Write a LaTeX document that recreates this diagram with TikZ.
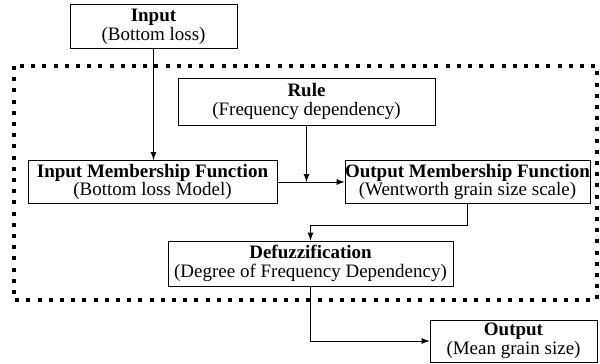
\documentclass[tikz,border=0pt]{standalone}
\usepackage{fontspec}
\setmainfont{Liberation Serif}
\tikzset{
  box/.style={draw, line width=0.5pt, align=center, inner sep=0pt,
    font=\fontsize{9.5}{9.4}\selectfont},
  dotframe/.style={line width=2pt, dash pattern=on 2pt off 3.6pt}
}
\begin{document}
\begin{tikzpicture}[>=latex, x=0.5pt, y=-0.5pt]
  \useasboundingbox (0,0) rectangle (600,364);

  % Frame
  \draw[dotframe] (14,66) rectangle (597,300);

  % Nodes
  \node[box, minimum width=83.5pt, minimum height=22pt] (In) at (153.5,26.5)
    {\textbf{Input}\\(Bottom loss)};
  \node[box, minimum width=128.5pt, minimum height=23.5pt] (Rule) at (306.5,101.5)
    {\textbf{Rule}\\(Frequency dependency)};
  \node[box, minimum width=124.5pt, minimum height=21.5pt] (InMF) at (152.5,182)
    {\textbf{Input Membership Function}\\(Bottom loss Model)};
  \node[box, minimum width=122.5pt, minimum height=21.5pt] (OutMF) at (467.5,182)
    {\textbf{Output Membership Function}\\(Wentworth grain size scale)};
  \node[box, minimum width=142.5pt, minimum height=22.5pt] (Defuzz) at (310.5,263.5)
    {\textbf{Defuzzification}\\(Degree of Frequency Dependency)};
  \node[box, minimum width=83.5pt, minimum height=21pt] (Out) at (513.5,341)
    {\textbf{Output}\\(Mean grain size)};
  \coordinate (Join) at (Rule.south |- InMF.east);

  % Arrows
  \draw[->] (In.south) -- (In.south |- InMF.north);
  \draw[->] (InMF.east) -- (InMF.east -| OutMF.west);
  \draw[->] (Rule.south) -- (Join);
  \draw[->] (OutMF.south) -- ++(0,21) -| (Defuzz.north);
  \draw[->] (Defuzz.south) |- (Out.west);
\end{tikzpicture}
\end{document}
